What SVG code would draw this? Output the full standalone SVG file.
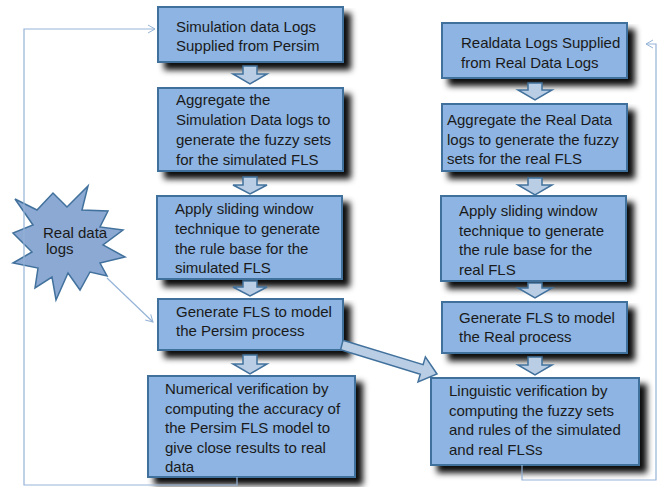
<svg xmlns="http://www.w3.org/2000/svg" width="665" height="487" viewBox="0 0 665 487">
<defs>
<filter id="sh" x="-10%" y="-10%" width="130%" height="140%">
<feGaussianBlur in="SourceAlpha" stdDeviation="3"/>
<feOffset dx="7" dy="7" result="b"/>
<feFlood flood-color="#000" flood-opacity="0.95"/>
<feComposite in2="b" operator="in" result="s"/>
<feMerge><feMergeNode in="s"/><feMergeNode in="SourceGraphic"/></feMerge>
</filter>
<marker id="open" markerWidth="10" markerHeight="10" refX="8" refY="5" orient="auto" markerUnits="userSpaceOnUse">
<path d="M1,1 L8,5 L1,9" fill="none" stroke="#95B3D7" stroke-width="1"/>
</marker>
<style>
.box{fill:#8DB4E2;stroke:#41719C;stroke-width:2;filter:url(#sh)}
.t{font-family:"Liberation Sans",Arial,sans-serif;font-size:15px;fill:#1a1a1a}
.dn{fill:#B9CDE5;stroke:#41719C;stroke-width:1.5}
.ln{fill:none;stroke:#95B3D7;stroke-width:1.2}
</style>
</defs>
<rect width="665" height="487" fill="#fff"/>

<g id="star">
<polygon points="15,199 37,210 53,193 67,207 88,186 82,210 108,211 100,227 123,230 103,245 125,257 100,263 107,276 90,272 80,290 68,273 56,300 52,277 35,288 38,268 13,263 32,252 13,233 33,225" fill="#8BA9D2" stroke="#41719C" stroke-width="1.5"/>
<text class="t" x="43" y="238">Real data</text>
<text class="t" x="46" y="254">logs</text>
</g>

<g id="sim1"><rect class="box" x="158" y="7" width="185" height="55"/>
<text class="t" x="176" y="32">Simulation data Logs</text>
<text class="t" x="176" y="51">Supplied from Persim</text></g>

<g id="sim2"><rect class="box" x="158" y="88" width="185" height="83"/>
<text class="t" x="176" y="105">Aggregate the</text>
<text class="t" x="176" y="125">Simulation Data logs to</text>
<text class="t" x="176" y="145">generate the fuzzy sets</text>
<text class="t" x="176" y="165">for the simulated FLS</text></g>

<g id="sim3"><rect class="box" x="157" y="196" width="185" height="83"/>
<text class="t" x="175" y="214">Apply sliding window</text>
<text class="t" x="175" y="234">technique to generate</text>
<text class="t" x="175" y="254">the rule base for the</text>
<text class="t" x="175" y="273">simulated FLS</text></g>

<g id="sim4"><rect class="box" x="158" y="299" width="185" height="51"/>
<text class="t" x="176" y="317">Generate FLS to model</text>
<text class="t" x="176" y="336">the Persim process</text></g>

<g id="sim5"><rect class="box" x="148" y="376" width="207" height="101"/>
<text class="t" x="165" y="394">Numerical verification by</text>
<text class="t" x="165" y="414">computing the accuracy of</text>
<text class="t" x="165" y="433">the Persim FLS model to</text>
<text class="t" x="165" y="453">give close results to real</text>
<text class="t" x="165" y="472">data</text></g>

<g id="real1"><rect class="box" x="442" y="23" width="185" height="55"/>
<text class="t" x="461" y="48">Realdata Logs Supplied</text>
<text class="t" x="461" y="68">from Real Data Logs</text></g>

<g id="real2"><rect class="box" x="442" y="104" width="185" height="67"/>
<text class="t" x="447" y="125">Aggregate the Real Data</text>
<text class="t" x="447" y="145">logs to generate the fuzzy</text>
<text class="t" x="447" y="164">sets for the real FLS</text></g>

<g id="real3"><rect class="box" x="441" y="196" width="185" height="85"/>
<text class="t" x="459" y="216">Apply sliding window</text>
<text class="t" x="459" y="236">technique to generate</text>
<text class="t" x="459" y="255">the rule base for the</text>
<text class="t" x="459" y="275">real FLS</text></g>

<g id="real4"><rect class="box" x="442" y="302" width="185" height="51"/>
<text class="t" x="459" y="323">Generate FLS to model</text>
<text class="t" x="459" y="342">the Real process</text></g>

<g id="real5"><rect class="box" x="431" y="378" width="208" height="87"/>
<text class="t" x="449" y="396">Linguistic verification by</text>
<text class="t" x="449" y="416">computing the fuzzy sets</text>
<text class="t" x="449" y="435">and rules of the simulated</text>
<text class="t" x="449" y="455">and real FLSs</text></g>

<g id="connectors">
<path class="dn" d="M243,66 H257 V74 H267 L250,84 L233,74 H243 Z"/>
<path class="dn" d="M243,177 H257 V185 H267 L250,194 L233,185 H243 Z"/>
<path class="dn" d="M243,281 H257 V287 H267 L250,296 L233,287 H243 Z"/>
<path class="dn" d="M243,355 H257 V364 H267 L250,374 L233,364 H243 Z"/>
<path class="dn" d="M528,83 H542 V90 H552 L535,100 L518,90 H528 Z"/>
<path class="dn" d="M528,178 H542 V185 H552 L535,195 L518,185 H528 Z"/>
<path class="dn" d="M528,283 H542 V288 H552 L535,298 L518,288 H528 Z"/>
<path class="dn" d="M528,357 H542 V365 H552 L535,375 L518,365 H528 Z"/>
<polygon class="dn" points="343,340.2 423.1,364.6 425.4,356.9 437,374 418,381.9 420.3,374.2 340.6,349.8"/>
<path class="ln" d="M237,477 V485 H24 V29 H155" marker-end="url(#open)"/>
<path class="ln" d="M522,465 V480 H656 V44 H646" marker-end="url(#open)"/>
<path class="ln" d="M107,278 L153,322" marker-end="url(#open)"/>
</g>
</svg>
